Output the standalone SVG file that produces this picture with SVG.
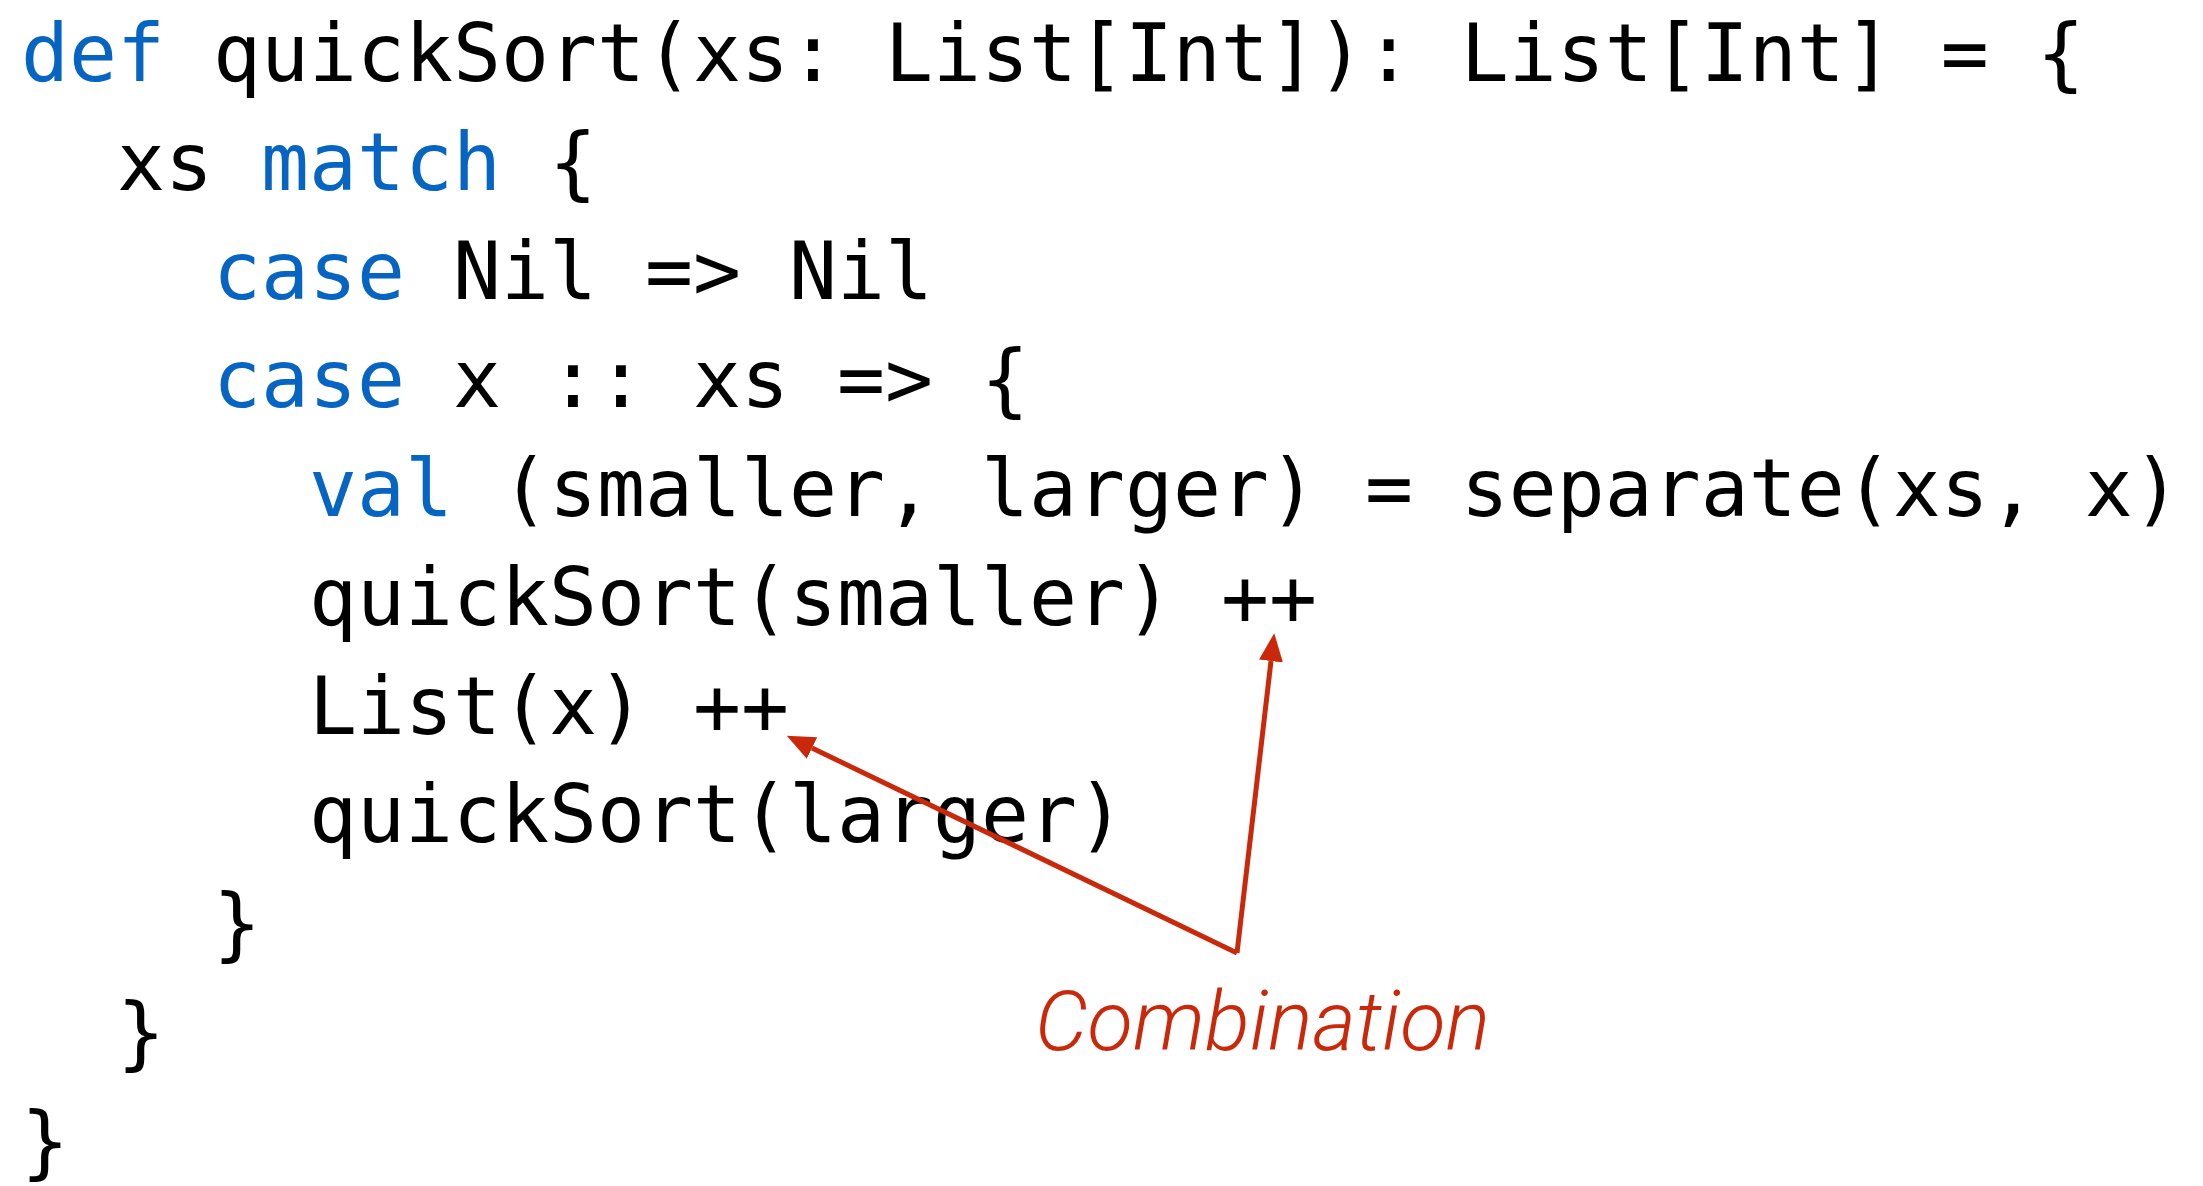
<svg xmlns="http://www.w3.org/2000/svg" width="2203" height="1186" viewBox="0 0 2203 1186">
<style>
.code{font-family:"DejaVu Sans Mono","Liberation Mono",monospace;font-size:79.73px;fill:#000}
.kw{fill:#0664C2}
.note{font-family:Roboto,"Liberation Sans",sans-serif;font-weight:300;font-style:italic;font-size:83.5px;fill:#C9290A}
.arrow{fill:none;stroke:#C9290A;stroke-width:5;stroke-linejoin:miter;marker-end:url(#head)}
</style>
<defs>
<marker id="head" viewBox="0 -12 28 24" refX="0" refY="0" markerWidth="28" markerHeight="24" markerUnits="userSpaceOnUse" orient="auto">
<path d="M0,-12 L28,0 L0,12 Z" fill="#C9290A"/>
</marker>
</defs>
<rect width="2203" height="1186" fill="#fff"/>
<g id="code">
<text class="code" x="21" y="81"><tspan class="kw">def</tspan> quickSort(xs: List[Int]): List[Int] = {</text>
<text class="code" x="117" y="189.75">xs <tspan class="kw">match</tspan> {</text>
<text class="code" x="213" y="298.5"><tspan class="kw">case</tspan> Nil =&gt; Nil</text>
<text class="code" x="213" y="407.25"><tspan class="kw">case</tspan> x :: xs =&gt; {</text>
<text class="code" x="309" y="516"><tspan class="kw">val</tspan> (smaller, larger) = separate(xs, x)</text>
<text class="code" x="309" y="624.75">quickSort(smaller) ++</text>
<text class="code" x="309" y="733.5">List(x) ++</text>
<text class="code" x="309" y="842.25">quickSort(larger)</text>
<text class="code" x="213" y="951">}</text>
<text class="code" x="117" y="1059.75">}</text>
<text class="code" x="21" y="1168.5">}</text>
</g>
<g id="label">
<text class="note" x="1035" y="1050">Combination</text>
</g>
<g id="connectors">
<path class="arrow" d="M1237,953 L1271,661"/>
<path class="arrow" d="M1237,953 L812,748"/>
</g>
</svg>
